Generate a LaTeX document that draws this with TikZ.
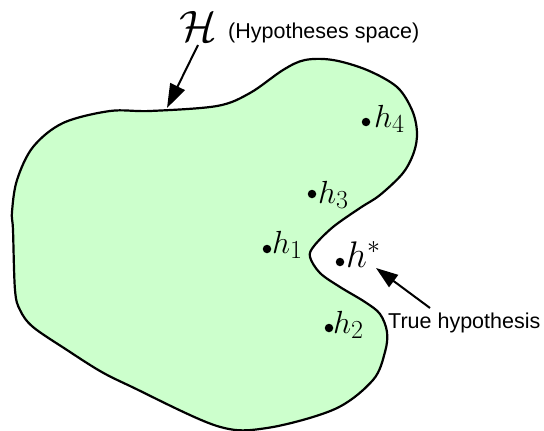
\RequirePackage{fix-cm}
\documentclass[tikz,border=0pt]{standalone}
\usepackage{fontspec}
\newfontfamily\labelfont{Liberation Sans}
\usetikzlibrary{arrows.meta}
\DeclareMathSizes{32}{32}{26}{19}
\definecolor{spacegreen}{HTML}{CCFFCC}
\tikzset{
  region/.style={draw=black, line width=2.2pt, fill=spacegreen},
  ptdot/.style={circle, fill=black, inner sep=0pt, minimum size=8.5pt},
  hlabel/.style={anchor=base west, inner sep=0pt, font=\fontsize{32}{36}\selectfont},
  hstar/.style={anchor=base west, inner sep=0pt, font=\fontsize{37}{41}\selectfont},
  txt/.style={anchor=base west, inner sep=0pt, font=\labelfont\fontsize{21.5}{25}\selectfont},
  arr/.style={line width=2pt, -{Triangle[length=24pt,width=16pt]}},
}
\begin{document}
\begin{tikzpicture}[x=1pt,y=-1pt]
\useasboundingbox (0,0) rectangle (544,431);
% hypothesis space outline
\draw[region] plot[smooth cycle, tension=0.55] coordinates {
  (63,123) (110,111) (150,111) (217,106) (250,93) (283,70) (305,60) (333,60)
  (367,70) (397,87) (412,110) (417,132) (414,152) (403,173) (380,195)
  (360,208) (333,227) (314,246) (310,257) (320,273) (340,287) (365,302)
  (380,314) (387,332) (385,352) (373,380) (335,409) (267,428) (217,426)
  (130,386) (100,371) (67,350) (33,327) (20,310) (15,290) (13,230)
  (12,212) (17,180) (33,147)};
% points
\node[ptdot] (d1) at (267,249) {};
\node[hlabel] (h1) at (272,253) {$h_1$};
\node[ptdot] (d2) at (329,328) {};
\node[hlabel] (h2) at (333,333) {$h_2$};
\node[ptdot] (d3) at (312,194) {};
\node[hlabel] (h3) at (318,203) {$h_3$};
\node[ptdot] (d4) at (366,122) {};
\node[hlabel] (h4) at (374,127) {$h_4$};
\node[ptdot] (ds) at (340,262) {};
\node[hstar] (hs) at (346,267) {$h^*$};
% labels
\node[inner sep=0pt, font=\fontsize{44}{50}\selectfont] (H) at (198,26) {$\mathcal{H}$};
\node[txt] (hspace) at (228,38) {(Hypotheses space)};
\node[txt] (truth) at (388,328) {True hypothesis};
% arrows
\coordinate (Htail) at (198,45);
\coordinate (Htip) at (167,108);
\draw[arr] (Htail) -- (Htip);
\coordinate (Ttail) at (430,308);
\coordinate (Ttip) at (376,268);
\draw[arr, -{Triangle[length=22pt,width=15pt]}] (Ttail) -- (Ttip);
\end{tikzpicture}
\end{document}
